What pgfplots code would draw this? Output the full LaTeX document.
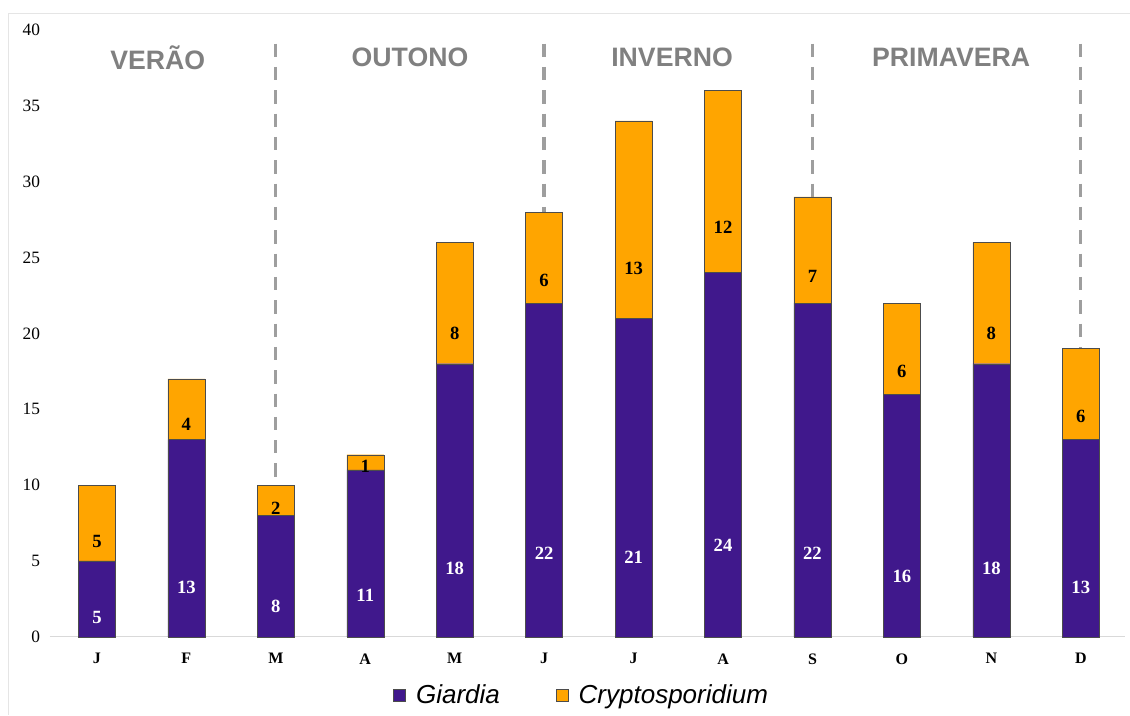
\documentclass[border=0pt]{standalone}
\usepackage{fontspec}
\setmainfont{Liberation Serif}
\newfontfamily\sansf{Liberation Sans}
\usepackage{pgfplots}
\pgfplotsset{compat=1.18}
\definecolor{giardia}{RGB}{64,24,140}
\definecolor{crypto}{RGB}{255,165,0}
\definecolor{season}{RGB}{128,128,128}
\definecolor{dashgray}{RGB}{158,158,158}
\begin{document}
\begin{tikzpicture}
\begin{axis}[
  scale only axis,
  width=806.25pt, height=455.25pt,
  ybar stacked, bar width=27.75pt,
  xmin=-0.525, xmax=11.49,
  ymin=0, ymax=40,
  ytick={0,5,...,40},
  xtick={0,...,11},
  xticklabels={J,F,M,A,M,J,J,A,S,O,N,D},
  xticklabel style={font=\fontsize{12}{14}\selectfont\bfseries, yshift=-9pt},
  yticklabel style={font=\fontsize{13}{15}\selectfont, xshift=-4pt},
  /pgf/number format/assume math mode=true,
  major tick length=0pt,
  axis x line*=bottom, axis y line*=left,
  x axis line style={draw=black!15, line width=0.8pt, -},
  y axis line style={draw=none},
  clip=false,
  legend columns=2,
  legend style={at={(0.495,-0.0956)}, anchor=center, draw=none, fill=none,
    font=\sansf\itshape\fontsize{19.5}{22}\selectfont,
    /tikz/every even column/.append style={column sep=40pt}},
  legend image code/.code={\draw[#1,line width=0.3pt] (0pt,-4.5pt) rectangle (9pt,4.5pt); \path[draw=none,fill=none] (0pt,0pt) -- (15pt,0pt);},
  nodes near coords,
  visualization depends on=rawy\as\rawy,
]
\addplot[fill=giardia, draw=black!70, line width=0.3pt,
  every node near coord/.style={anchor=center, yshift={-\rawy*2.8453125}, text=white,
     font=\fontsize{14}{16}\selectfont\bfseries}]
  coordinates {(0,5) (1,13) (2,8) (3,11) (4,18) (5,22) (6,21) (7,24) (8,22) (9,16) (10,18) (11,13)};
\addplot[fill=crypto, draw=black!70, line width=0.3pt,
  every node near coord/.style={anchor=center, yshift={-\rawy*2.8453125}, text=black,
     font=\fontsize{14}{16}\selectfont\bfseries}]
  coordinates {(0,5) (1,4) (2,2) (3,1) (4,8) (5,6) (6,13) (7,12) (8,7) (9,6) (10,8) (11,6)};
\legend{Giardia, Cryptosporidium}
\draw[dashgray, line width=2.5pt, dash pattern=on 10pt off 7.5pt] (axis cs:2,39.1) -- (axis cs:2,10);
\draw[dashgray, line width=2.5pt, dash pattern=on 10pt off 7.5pt] (axis cs:5,39.1) -- (axis cs:5,28);
\draw[dashgray, line width=2.5pt, dash pattern=on 10pt off 7.5pt] (axis cs:8,39.1) -- (axis cs:8,29);
\draw[dashgray, line width=2.5pt, dash pattern=on 10pt off 7.5pt] (axis cs:11,39.1) -- (axis cs:11,19);
\node[text=season, font=\sansf\bfseries\fontsize{20}{22}\selectfont] at (axis cs:0.68,38.2) {VERÃO};
\node[text=season, font=\sansf\bfseries\fontsize{20}{22}\selectfont] at (axis cs:3.5,38.2) {OUTONO};
\node[text=season, font=\sansf\bfseries\fontsize{20}{22}\selectfont] at (axis cs:6.43,38.2) {INVERNO};
\node[text=season, font=\sansf\bfseries\fontsize{20}{22}\selectfont] at (axis cs:9.55,38.2) {PRIMAVERA};
\end{axis}
\draw[black!10, line width=0.6pt] ([shift={(-31.5pt,-58.5pt)}]current axis.south west) -- ([shift={(-31.5pt,12.75pt)}]current axis.north west) -- ([shift={(3.75pt,12.75pt)}]current axis.north east);
\path[use as bounding box] ([shift={(-37.5pt,-58.5pt)}]current axis.south west) rectangle ([shift={(3.75pt,22.5pt)}]current axis.north east);
\end{tikzpicture}
\end{document}
